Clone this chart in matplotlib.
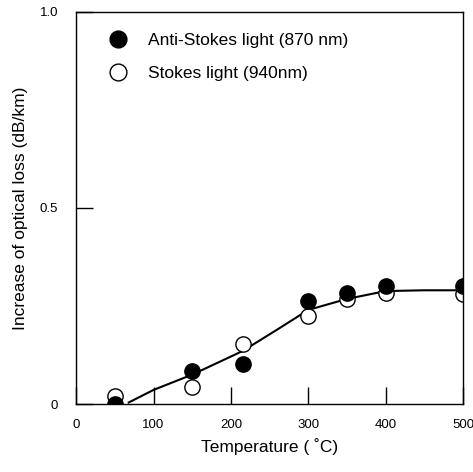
import numpy as np
from matplotlib import pyplot as plt

plt.rcParams['font.family'] = ['Liberation Sans', 'DejaVu Sans']

# measured loss increase (dB/km) vs temperature
temps = [50, 150, 215, 300, 350, 400, 500]
anti_stokes = [0.0, 0.084, 0.102, 0.263, 0.283, 0.300, 0.300]
stokes = [0.020, 0.043, 0.153, 0.224, 0.268, 0.283, 0.280]

# hand-drawn trend curve through both series
curve_t = [68, 100, 150, 215, 260, 300, 350, 400, 450, 500]
curve_v = [0.004, 0.036, 0.075, 0.135, 0.190, 0.240, 0.268, 0.288, 0.290, 0.290]

fig = plt.figure(figsize=(4.73, 4.72), dpi=100)
ax = fig.add_axes([0.161, 0.144, 0.818, 0.831])

ax.plot(curve_t, curve_v, color='black', lw=1.5, zorder=1)
ax.plot(temps, stokes, 'o', ms=11, mfc='white', mec='black', mew=1.0, zorder=2,
        label='Stokes light (940nm)')
ax.plot(temps, anti_stokes, 'o', ms=11, mfc='black', mec='black', zorder=3,
        label='Anti-Stokes light (870 nm)')

ax.set_xlim(0, 500)
ax.set_ylim(0, 1.0)
ax.set_xticks([0, 100, 200, 300, 400, 500])
ax.set_yticks([0, 0.5, 1.0])
ax.set_yticklabels(['0', '0.5', '1.0'])
ax.tick_params(direction='in', length=12, width=1.0, labelsize=9.5)
ax.tick_params(axis='x', pad=11)
ax.tick_params(axis='y', pad=13)
for s in ax.spines.values():
    s.set_linewidth(1.0)

ax.set_xlabel('Temperature ( \u02daC)', fontsize=12.5, labelpad=5)
ax.set_ylabel('Increase of optical loss (dB/km)', fontsize=12.5, labelpad=8)

h, l = ax.get_legend_handles_labels()
ax.legend(h[::-1], l[::-1], loc='upper left', frameon=False, fontsize=12.5,
          bbox_to_anchor=(0.04, 0.985), handletextpad=1.15, labelspacing=1.0,
          handlelength=1.2, markerscale=1.1)

fig.savefig('out.png', dpi=100)
